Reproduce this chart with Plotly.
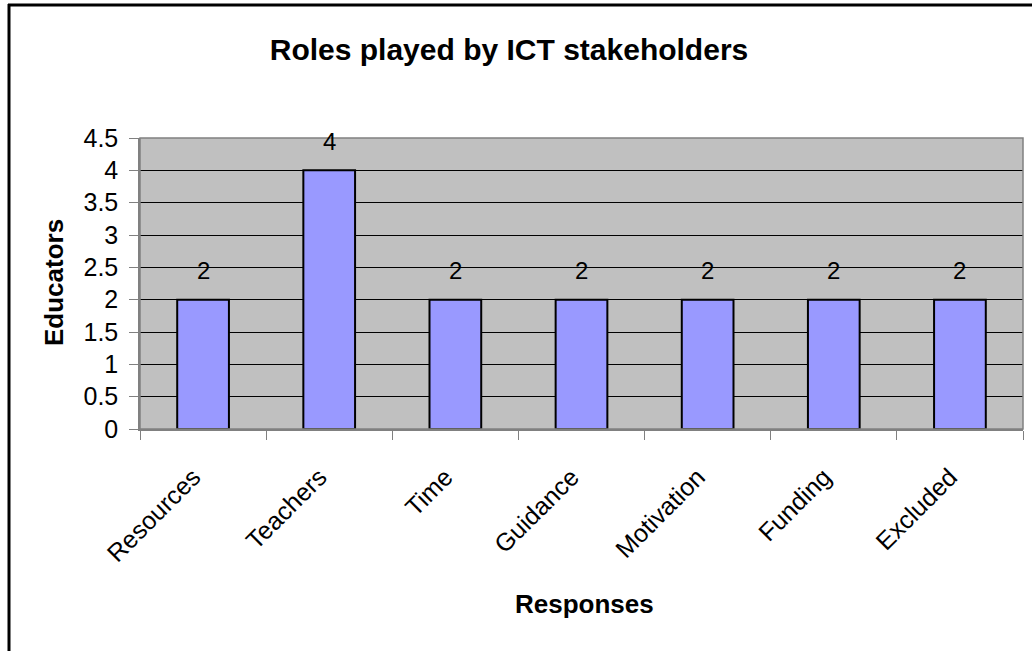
import plotly.graph_objects as go

categories = ["Resources", "Teachers", "Time", "Guidance", "Motivation", "Funding", "Excluded"]
values = [2, 4, 2, 2, 2, 2, 2]
y_ticks = [0, 0.5, 1, 1.5, 2, 2.5, 3, 3.5, 4, 4.5]
y_tick_labels = ["0", "0.5", "1", "1.5", "2", "2.5", "3", "3.5", "4", "4.5"]

W, H = 1032, 651
ML, MR, MT, MB = 140, 9, 138, 222
PW = W - ML - MR
PH = H - MT - MB

FONT = "Liberation Sans, Arial, sans-serif"


def px_x(px):
    return (px - ML) / PW


def px_y(py):
    return (H - MB - py) / PH


fig = go.Figure()
fig.add_trace(go.Bar(
    x=categories, y=values,
    marker=dict(color="#9999FF", line=dict(color="#000000", width=2)),
    hoverinfo="x+y",
))

annotations = []
for c, v in zip(categories, values):
    annotations.append(dict(
        x=c, y=v, xref="x", yref="y", text=str(v), showarrow=False,
        yanchor="middle", yshift=29, font=dict(family=FONT, size=24, color="#000000"),
    ))

# axis titles
annotations.append(dict(
    text="<b>Educators</b>", xref="paper", yref="paper", x=px_x(54), y=px_y(283),
    xanchor="center", yanchor="middle", textangle=-90, showarrow=False,
    font=dict(family=FONT, size=26, color="#000000"),
))
annotations.append(dict(
    text="<b>Responses</b>", xref="paper", yref="paper", x=px_x(584), y=px_y(604),
    xanchor="center", yanchor="middle", showarrow=False,
    font=dict(family=FONT, size=26, color="#000000"),
))

shapes = [
    # outer chart border (left and top visible)
    dict(type="line", xref="paper", yref="paper", x0=px_x(8), x1=px_x(W + 10),
         y0=px_y(5), y1=px_y(5), line=dict(color="#000000", width=3)),
    dict(type="line", xref="paper", yref="paper", x0=px_x(9), x1=px_x(9),
         y0=px_y(4), y1=px_y(H + 10), line=dict(color="#000000", width=3)),
    # plot area border
    dict(type="rect", xref="paper", yref="paper", x0=0, x1=1, y0=0, y1=1,
         line=dict(color="#808080", width=1.5), layer="above"),
]

fig.update_layout(
    width=W, height=H,
    margin=dict(l=ML, r=MR, t=MT, b=MB, pad=0),
    paper_bgcolor="#FFFFFF",
    plot_bgcolor="#C0C0C0",
    bargap=0.59,
    showlegend=False,
    font=dict(family=FONT, color="#000000"),
    title=dict(text="<b>Roles played by ICT stakeholders</b>", x=509 / W, xanchor="center",
               y=(H - 49) / H, yanchor="middle", yref="container",
               font=dict(family=FONT, size=30, color="#000000")),
    xaxis=dict(
        type="category", tickangle=-45, tickson="boundaries",
        tickmode="array", tickvals=categories,
        ticktext=[c + "\u00a0\u00a0" for c in categories],
        ticks="outside", ticklen=9, tickcolor="#808080", tickwidth=1,
        showline=True, linecolor="#808080", linewidth=1.5,
        showgrid=False, ticklabelstandoff=12,
        tickfont=dict(family=FONT, size=25, color="#000000"),
    ),
    yaxis=dict(
        range=[0, 4.5], tickvals=y_ticks, ticktext=y_tick_labels,
        ticks="outside", ticklen=9, tickcolor="#808080", tickwidth=1,
        showline=True, linecolor="#808080", linewidth=1.5,
        showgrid=True, gridcolor="#000000", gridwidth=1,
        zeroline=False, ticklabelstandoff=6,
        tickfont=dict(family=FONT, size=25, color="#000000"),
    ),
    annotations=annotations,
    shapes=shapes,
)

fig.write_html("out.html", config={"displayModeBar": False},
               post_script="document.body.style.margin='0';")
